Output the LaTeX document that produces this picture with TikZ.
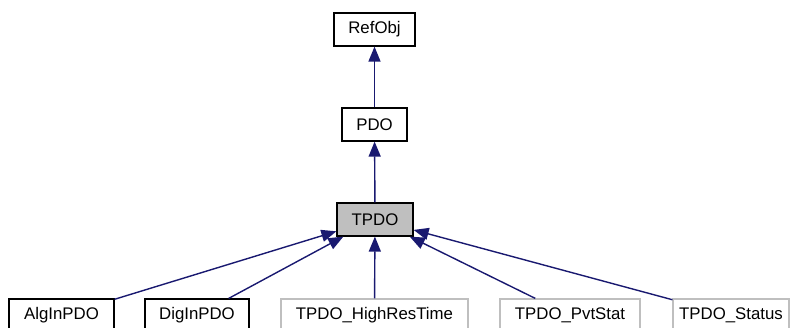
\documentclass[tikz,border=0pt]{standalone}
\usepackage{fontspec}
\setmainfont{Liberation Sans}
\usepackage{tikz}
\usetikzlibrary{arrows.meta,positioning}

\definecolor{edgeblue}{HTML}{191970}
\definecolor{boxgray}{HTML}{BFBFBF}

\tikzset{
  cls/.style={draw=black,line width=1.2pt,minimum height=33pt,inner sep=0pt,
              font=\fontsize{16.8}{20}\selectfont},
  clsgray/.style={cls,draw=boxgray},
  clscur/.style={cls,fill=boxgray},
  inherit/.style={draw=edgeblue,line width=1.4pt,-{Triangle[length=15pt,width=12pt]}}
}

\begin{document}
\begin{tikzpicture}[x=1pt,y=-1pt]
  %\draw[color=gray,step=10pt,help lines,opacity=0.3] (0,0) grid (794,327); %help grids
  \useasboundingbox (0,0) rectangle (794,327);
  % class boxes
  \node[cls,minimum width=81pt] (refobj) at (374.5,29.5) {RefObj};
  \node[cls,minimum width=65pt] (pdo) at (374.5,124.5) {PDO};
  \node[clscur,minimum width=76pt] (tpdo) at (375,219.5) {TPDO};
  \node[cls,minimum width=105pt] (alginpdo) at (61.5,315.5) {AlgInPDO};
  \node[cls,minimum width=104pt] (diginpdo) at (197,315.5) {DigInPDO};
  \node[clsgray,minimum width=187pt] (highres) at (374.5,315.5) {TPDO\_HighResTime};
  \node[clsgray,minimum width=140pt] (pvtstat) at (570,315.5) {TPDO\_PvtStat};
  \node[clsgray,minimum width=116pt] (status) at (731,315.5) {TPDO\_Status};
  % inheritance
  \draw[inherit] (pdo) -- (refobj);
  \draw[inherit] (tpdo) -- (pdo);
  \foreach \sub in {alginpdo,diginpdo,highres,pvtstat,status}
    \draw[inherit] (\sub) -- (tpdo);
\end{tikzpicture}
\end{document}
